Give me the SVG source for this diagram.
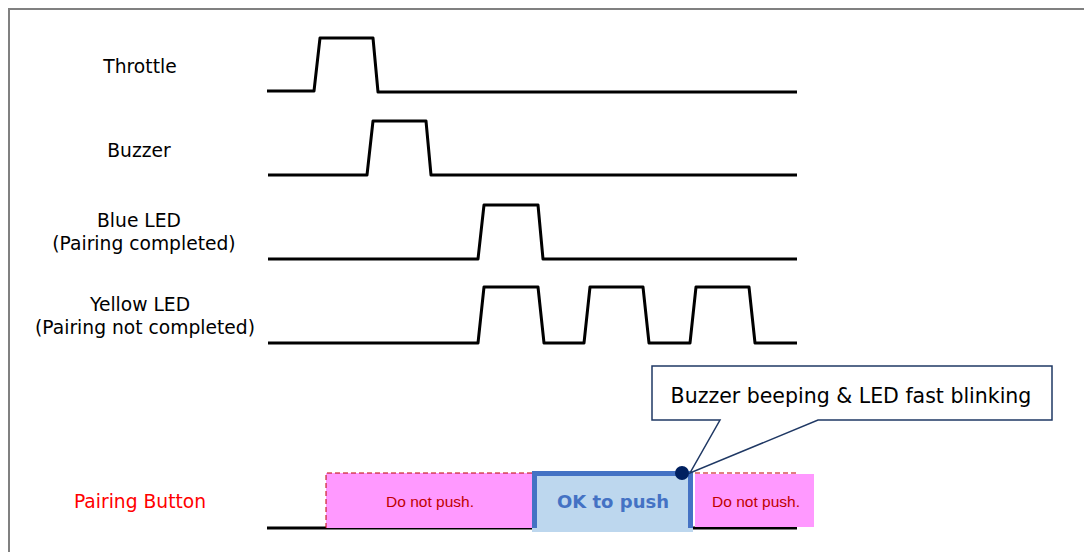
<svg xmlns="http://www.w3.org/2000/svg" width="1084" height="552" viewBox="0 0 1084 552">
<style>
.lbl{font-family:"DejaVu Sans",Verdana,sans-serif;font-size:18.7px;fill:#000;text-anchor:middle}
.sig{fill:none;stroke:#000;stroke-width:3;stroke-linejoin:round}
.dnp{font-family:"Liberation Sans",Arial,sans-serif;font-size:15.5px;fill:#C00000;text-anchor:middle}
.pink{fill:#FF99FF}
</style>
<rect x="9" y="9" width="1090" height="560" fill="#fff" stroke="#808080" stroke-width="2"/>
<g id="throttle">
<text class="lbl" x="140" y="73">Throttle</text>
<path class="sig" d="M267,91 H314 L320,38 H373 L378,92 H797"/>
</g>
<g id="buzzer">
<text class="lbl" x="139" y="157">Buzzer</text>
<path class="sig" d="M268,175 H367 L373,121 H426 L431,175 H797"/>
</g>
<g id="blue-led">
<text class="lbl" x="139" y="227">Blue LED</text>
<text class="lbl" x="144" y="250">(Pairing completed)</text>
<path class="sig" d="M268,259 H478 L484,205 H538 L543,259 H797"/>
</g>
<g id="yellow-led">
<text class="lbl" x="140" y="311">Yellow LED</text>
<text class="lbl" x="145" y="334">(Pairing not completed)</text>
<path class="sig" d="M268,343 H478 L484,287 H538 L544,343 H584 L590,287 H643 L649,343 H690 L696,287 H749 L755,343 H797"/>
</g>
<g id="pairing-button">
<text class="lbl" x="140" y="508" style="fill:#FF0000">Pairing Button</text>
<path class="sig" d="M267,528 H797"/>
<rect class="pink" x="326" y="473" width="206" height="55"/>
<path d="M326,528 V473 H796" fill="none" stroke="#C00000" stroke-width="1" stroke-dasharray="5,3"/>
<text class="dnp" x="430" y="507">Do not push.</text>
<rect x="532" y="471" width="161" height="61" fill="#BDD7EE"/>
<path d="M534.5,528 V473.5 H690.5 V528" fill="none" stroke="#4472C4" stroke-width="5"/>
<text x="613" y="508" style="font-family:'DejaVu Sans',Verdana,sans-serif;font-size:18px;font-weight:bold;fill:#4472C4;text-anchor:middle">OK to push</text>
<rect class="pink" x="695" y="474" width="119" height="53"/>
<text class="dnp" x="756" y="507">Do not push.</text>
</g>
<g id="connectors">
<path d="M652,366 H1052 V420 H818 L690,473 L720,420 H652 Z" fill="#fff" stroke="#1F3864" stroke-width="1.5" stroke-linejoin="miter"/>
<circle cx="682" cy="473" r="7" fill="#002060"/>
</g>
<g id="callout">
<text class="lbl" x="851" y="403" style="font-size:20.5px">Buzzer beeping &amp; LED fast blinking</text>
</g>
</svg>
